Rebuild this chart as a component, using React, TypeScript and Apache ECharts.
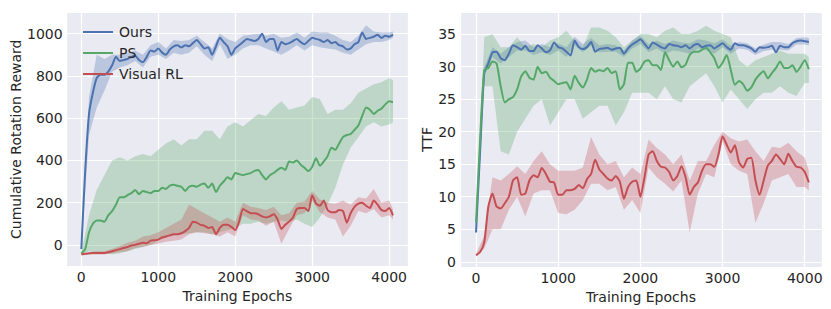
import React, { useEffect, useRef } from "react";
import * as echarts from "echarts";

// ---------- data ----------
const epochs = [
  0, 50, 100, 150, 200, 250, 300, 350, 400, 450, 500, 550, 600, 650, 700, 750, 800, 850, 900, 950,
  1000, 1050, 1100, 1150, 1200, 1250, 1300, 1350, 1400, 1450, 1500, 1550, 1600, 1650, 1700, 1750, 1800, 1850, 1900, 1950,
  2000, 2050, 2100, 2150, 2200, 2250, 2300, 2350, 2400, 2450, 2500, 2550, 2600, 2650, 2700, 2750, 2800, 2850, 2900, 2950,
  3000, 3050, 3100, 3150, 3200, 3250, 3300, 3350, 3400, 3450, 3500, 3550, 3600, 3650, 3700, 3750, 3800, 3850, 3900, 3950,
  4000, 4050,
];
const bandEpochs = [
  0, 100, 200, 300, 400, 500, 600, 700, 800, 900, 1000, 1100, 1200, 1300, 1400, 1500, 1600, 1700, 1800, 1900,
  2000, 2100, 2200, 2300, 2400, 2500, 2600, 2700, 2800, 2900, 3000, 3100, 3200, 3300, 3400, 3500, 3600, 3700, 3800, 3900,
  4000, 4050,
];

// Left: Cumulative Rotation Reward
const rewardOurs = [
  -20, 350, 620, 720, 790, 805, 805, 820, 850, 890, 870, 875, 880, 890, 895, 875, 865, 890, 920, 915,
  930, 910, 900, 925, 940, 945, 935, 945, 940, 955, 970, 950, 930, 935, 900, 940, 980, 960, 940, 900,
  930, 945, 960, 975, 970, 965, 975, 1000, 960, 975, 975, 920, 960, 950, 955, 965, 975, 960, 950, 965,
  980, 975, 970, 960, 970, 955, 960, 945, 940, 925, 930, 950, 960, 1005, 975, 980, 985, 995, 980, 990,
  985, 995,
];
const rewardPS = [
  -40, -20, 60, 100, 115, 115, 110, 140, 160, 190, 225, 225, 235, 245, 260, 240, 255, 250, 245, 255,
  255, 270, 265, 280, 285, 280, 275, 255, 275, 280, 275, 285, 290, 270, 290, 250, 280, 300, 320, 310,
  340, 335, 330, 335, 340, 350, 355, 330, 310, 330, 340, 355, 365, 355, 395, 390, 400, 380, 365, 350,
  370, 410, 375, 395, 420, 460, 450, 480, 510, 520, 525, 545, 565, 610, 650, 640, 620, 635, 645, 665,
  680, 675,
];
const rewardVRL = [
  -45, -42, -40, -38, -38, -38, -38, -35, -30, -25, -20, -15, -10, -3, 0, 5, 10, 8, 20, 22,
  25, 35, 40, 45, 50, 50, 55, 65, 80, 110, 105, 95, 90, 80, 85, 50, 80, 95, 95, 85,
  70, 110, 170, 160, 150, 150, 145, 135, 130, 135, 145, 120, 75, 95, 110, 130, 170, 175, 175, 160,
  235, 195, 185, 210, 165, 155, 155, 165, 160, 105, 150, 180, 195, 200, 185, 175, 210, 190, 165, 160,
  175, 140,
];
const rewardOursLow = [
  -30, 520, 650, 730, 820, 840, 850, 870, 840, 890, 900, 880, 910, 900, 910, 940, 900, 870, 950, 880,
  900, 930, 945, 945, 930, 915, 900, 920, 945, 920, 945, 935, 930, 925, 910, 900, 925, 950, 960, 960,
  970, 980,
];
const rewardOursHigh = [
  -15, 700, 900, 880, 900, 900, 910, 920, 900, 945, 960, 930, 970, 965, 970, 990, 960, 930, 1000, 975,
  960, 990, 995, 1000, 990, 1000, 980, 985, 1005, 980, 1010, 1005, 1005, 990, 970, 960, 990, 1040, 1010, 1005,
  1005, 1010,
];
const rewardPSLow = [
  -45, -30, -40, -40, -45, -40, -30, -20, -10, 0, 20, 35, 45, 50, 55, 60, 60, 50, 60, 70,
  80, 100, 100, 110, 100, 110, 115, 110, 120, 100, 85, 130, 190, 270, 380, 460, 510, 560, 580, 560,
  570, 580,
];
const rewardPSHigh = [
  -35, 140, 260, 330, 400, 415, 400, 420, 430, 420, 450, 480, 500, 470, 500, 500, 540, 540, 500, 560,
  580, 560, 590, 620, 610, 650, 680, 640, 650, 660, 700, 690, 620, 640, 640, 670, 720, 740, 760, 770,
  790, 780,
];
const rewardVRLLow = [
  -50, -45, -45, -45, -40, -35, -30, -15, -10, 0, 5, 15, 20, 25, 50, 60, 55, 50, 40, 60,
  40, 140, 120, 115, 90, 110, 5, 75, 140, 150, 210, 155, 130, 120, 40, 90, 160, 150, 170, 130,
  140, 120,
];
const rewardVRLHigh = [
  -40, -35, -30, -30, -20, -5, 10, 20, 40, 45, 60, 80, 100, 120, 190, 170, 150, 130, 110, 130,
  110, 200, 180, 175, 165, 180, 140, 150, 200, 205, 255, 215, 200, 195, 210, 190, 225, 220, 265, 200,
  210, 170,
];

// Right: TTF
const ttfOurs = [
  4.5, 17, 29, 30.5, 32.2, 32.3, 31.3, 31.0, 32.0, 33.3, 33.0, 32.6, 33.2, 32.4, 32.4, 33.3, 32.8, 32.2, 32.5, 33.7,
  33.0, 32.8, 32.3, 31.7, 34.0, 33.0, 32.7, 33.0, 33.8, 32.3, 32.7, 32.8, 32.9, 32.6, 32.8, 32.9, 32.0, 32.8, 33.4, 33.8,
  34.2, 33.5, 32.8, 33.7, 33.4, 33.0, 32.8, 33.5, 33.3, 33.2, 33.0, 33.3, 32.8, 33.3, 33.5, 33.0, 33.2, 33.3, 32.8, 33.2,
  33.6, 33.0, 32.6, 33.6, 33.3, 33.3, 33.1, 32.8, 32.3, 33.0, 32.9, 33.0, 33.2, 32.2, 33.2, 33.0, 33.0, 33.6, 33.9, 34.0,
  33.9, 33.8,
];
const ttfPS = [
  6, 19, 29.5, 29.8, 30.8, 30.5, 27, 24.5, 25, 25.3, 26.5, 28.5, 29.3, 28.3, 28, 30.0, 29, 29.2, 28.3, 27.8,
  27.3, 27.5, 27.6, 26.5, 28.6, 27.5, 26.8, 28, 29.8, 29.2, 29.5, 29.3, 29.8, 29, 29.3, 26.5, 27.3, 30.6, 30.6, 29.2,
  29.7, 30.8, 31.0, 30.2, 30.2, 29.5, 32.2, 31, 30, 30.8, 29.9, 30.3, 31.8, 32.3, 32.3, 32.6, 32.9, 32.2, 31.3, 29.8,
  30.6, 31.8, 29.5, 27.2, 27.8, 27.3, 26.3, 26.8, 28, 28.8, 29.3, 28.2, 29, 29.8, 30.8, 29.8, 29.8, 30.2, 29.2, 30,
  31, 29.6,
];
const ttfVRL = [
  1.0, 1.5, 3.0, 8.5, 10.5, 8.5, 8.2, 9, 10, 12.5, 13, 10.3, 10.5, 12.5, 13.3, 13, 14.4, 13.5, 12.3, 12.2,
  10.3, 10.3, 11, 11, 11.2, 11.8, 11.3, 12.7, 13.5, 15.7, 14.2, 13.5, 12.8, 12.5, 13.2, 12.3, 9.7, 11.5, 12.3, 12.5,
  10.0, 13, 16.5, 17.0, 15.5, 14.6, 14.5, 13.8, 12.5, 13.2, 14.7, 13, 10.3, 11.5, 12.2, 14, 15, 15, 14.6, 16.5,
  19.3, 18, 16.8, 17.9, 15.3, 14.5, 15.8, 16, 12.5, 10.3, 12.5, 14.8, 15.5, 16.5, 15.8, 15, 16.6, 15.5, 14.6, 14.5,
  13.8, 12.2,
];
const ttfOursLow = [
  4.3, 28.5, 31.5, 30.5, 31.5, 32.5, 32.5, 31.8, 32.2, 31.8, 32.5, 31.5, 33.3, 32.2, 33.2, 32.2, 32.3, 32.3, 31.5, 32.8,
  33.5, 32.2, 32.8, 32.0, 32.5, 32.3, 32.0, 32.8, 32.5, 32.0, 33.0, 32.0, 32.8, 32.6, 31.8, 32.4, 32.6, 32.6, 32.5, 33.4,
  33.4, 33.3,
];
const ttfOursHigh = [
  4.7, 30, 33, 32, 33, 33.8, 34, 33, 33.5, 33, 33.6, 33, 34.6, 33.5, 34.4, 33.3, 33.5, 33.3, 32.5, 34,
  34.8, 33.4, 34, 33.5, 34, 33.7, 33.6, 34.2, 34, 33.6, 34.2, 33.2, 33.8, 33.6, 32.8, 33.4, 33.8, 33.8, 33.5, 34.4,
  34.5, 34.4,
];
const ttfPSLow = [
  5.5, 27, 27, 17, 16.5, 20, 22, 24, 25, 21, 23, 25, 25, 22, 23, 24, 24, 21, 23, 26,
  26, 26, 25, 27, 25, 24.5, 27, 28, 29, 27, 24.5, 26.5, 25, 23.5, 25, 26, 26, 27, 26, 25.5,
  27.5, 27.5,
];
const ttfPSHigh = [
  6.5, 34.5, 35, 33, 33, 34.5, 33, 33.5, 33, 34, 34.5, 35.5, 34, 33, 36, 36, 35.5, 34.5, 33, 34,
  35, 35, 34.5, 35.5, 36, 35, 35, 35.5, 36.3, 35.5, 35, 34.5, 31, 30, 31, 31.5, 32, 32.5, 32, 32,
  32, 31.5,
];
const ttfVRLLow = [
  0.8, 2, 5, 5, 8, 10, 7, 10.5, 11, 11, 7.5, 7.3, 8, 9.5, 12, 12, 11, 11.5, 8, 9.5,
  7.5, 14.5, 13, 12, 10.8, 12.5, 4.5, 10.5, 13.5, 13, 18.5, 15, 14, 13.5, 6, 9, 12.5, 13, 13.5, 11.5,
  11.5, 11,
];
const ttfVRLHigh = [
  1.2, 4, 13, 12.5, 13.5, 14.7, 13.5, 15.5, 17, 15, 14, 14, 14, 14.5, 19.2, 16.5, 15, 15.5, 13, 14.5,
  13.5, 18.8, 17.5, 16.5, 15, 16.5, 12.5, 15.5, 15.5, 18, 20, 19, 18.5, 18.8, 17, 15.5, 17.7, 17.5, 18.3, 17,
  16, 14,
];

const seriesNames = ["Ours", "PS", "Visual RL"];
const colors = ["#4C72B0", "#55A868", "#C44E52"];
const bandColors = ["rgba(76,114,176,0.3)", "rgba(85,168,104,0.3)", "rgba(196,78,82,0.3)"];

const xLabel = "Training Epochs";
const leftYLabel = "Cumulative Rotation Reward";
const rightYLabel = "TTF";

// ---------- helpers ----------
const FONT = "DejaVu Sans";
const TEXT = "#262626";

function lineSeries(name: string, color: string, ys: number[], gi: number) {
  return {
    type: "line",
    name,
    xAxisIndex: gi,
    yAxisIndex: gi,
    data: epochs.map((e, i) => [e, ys[i]]),
    showSymbol: false,
    symbol: "none",
    smooth: 0.2,
    lineStyle: { color, width: 2 },
    itemStyle: { color },
    z: 3,
  };
}

function bandSeries(name: string, fill: string, lo: number[], hi: number[], gi: number) {
  const data = bandEpochs.map((e, i) => [e, lo[i], hi[i]]);
  return {
    type: "custom",
    name,
    xAxisIndex: gi,
    yAxisIndex: gi,
    data,
    encode: { x: 0, y: [1, 2] },
    silent: true,
    z: 2,
    renderItem: (params: any, api: any) => {
      if (params.dataIndex !== 0) return null;
      const pts: number[][] = [];
      for (let i = 0; i < data.length; i++) pts.push(api.coord([data[i][0], data[i][1]]));
      for (let i = data.length - 1; i >= 0; i--) pts.push(api.coord([data[i][0], data[i][2]]));
      return { type: "polygon", shape: { points: pts }, style: { fill: fill, stroke: null } };
    },
  };
}

const plainNumber = (v: number) => String(v);

function xAxisFor(gi: number, min: number, max: number) {
  return {
    type: "value",
    gridIndex: gi,
    min,
    max,
    name: xLabel,
    nameLocation: "middle",
    nameGap: 17,
    nameTextStyle: { fontFamily: FONT, fontSize: 14, color: TEXT },
    axisLine: { show: false },
    axisTick: { show: false },
    splitLine: { show: true, lineStyle: { color: "#ffffff", width: 1.2 } },
    axisLabel: {
      fontFamily: FONT,
      fontSize: 14,
      color: TEXT,
      margin: 4,
      showMinLabel: false,
      showMaxLabel: false,
      formatter: plainNumber,
    },
  };
}

function yAxisFor(gi: number, min: number, max: number, name: string, gap: number, split: number) {
  return {
    type: "value",
    gridIndex: gi,
    min,
    max,
    splitNumber: split,
    name,
    nameLocation: "middle",
    nameGap: gap,
    nameRotate: 90,
    nameTextStyle: { fontFamily: FONT, fontSize: 14, color: TEXT },
    axisLine: { show: false },
    axisTick: { show: false },
    splitLine: { show: true, lineStyle: { color: "#ffffff", width: 1.2 } },
    axisLabel: {
      fontFamily: FONT,
      fontSize: 14,
      color: TEXT,
      margin: 4,
      showMinLabel: false,
      showMaxLabel: false,
      formatter: plainNumber,
    },
  };
}

export default function App() {
  const ref = useRef<HTMLDivElement>(null);
  useEffect(() => {
    if (!ref.current) return;
    const chart = echarts.init(ref.current, null, { renderer: "svg" });
    const leftMeans = [rewardOurs, rewardPS, rewardVRL];
    const leftLows = [rewardOursLow, rewardPSLow, rewardVRLLow];
    const leftHighs = [rewardOursHigh, rewardPSHigh, rewardVRLHigh];
    const rightMeans = [ttfOurs, ttfPS, ttfVRL];
    const rightLows = [ttfOursLow, ttfPSLow, ttfVRLLow];
    const rightHighs = [ttfOursHigh, ttfPSHigh, ttfVRLHigh];
    const series: any[] = [];
    for (let k = 0; k < 3; k++) {
      series.push(bandSeries(seriesNames[k] + " band L", bandColors[k], leftLows[k], leftHighs[k], 0));
      series.push(lineSeries(seriesNames[k], colors[k], leftMeans[k], 0));
    }
    for (let k = 0; k < 3; k++) {
      series.push(bandSeries(seriesNames[k] + " band R", bandColors[k], rightLows[k], rightHighs[k], 1));
      series.push(lineSeries(seriesNames[k], colors[k], rightMeans[k], 1));
    }
    chart.setOption({
      animation: false,
      backgroundColor: "#ffffff",
      textStyle: { fontFamily: FONT },
      grid: [
        { left: 66.7, top: 12.5, width: 341.3, height: 253.5, show: true, backgroundColor: "#EAEAF2", borderWidth: 0 },
        { left: 460, top: 12, width: 362, height: 255, show: true, backgroundColor: "#EAEAF2", borderWidth: 0 },
      ],
      xAxis: [xAxisFor(0, -190, 4245), xAxisFor(1, -195, 4210)],
      yAxis: [
        yAxisFor(0, -100, 1100, leftYLabel, 43, 5),
        yAxisFor(1, -0.8, 38.4, rightYLabel, 25, 8),
      ],
      legend: {
        data: seriesNames,
        orient: "vertical",
        left: 78,
        top: 20,
        icon: "rect",
        itemWidth: 30,
        itemHeight: 2,
        itemGap: 7,
        textStyle: { fontFamily: FONT, fontSize: 14, color: TEXT, padding: [0, 0, 0, 1] },
      },
      series,
    });
    return () => chart.dispose();
  }, []);
  return (
    <div
      ref={ref}
      style={{ position: "fixed", left: 0, top: 0, width: 831, height: 309 }}
    />
  );
}
